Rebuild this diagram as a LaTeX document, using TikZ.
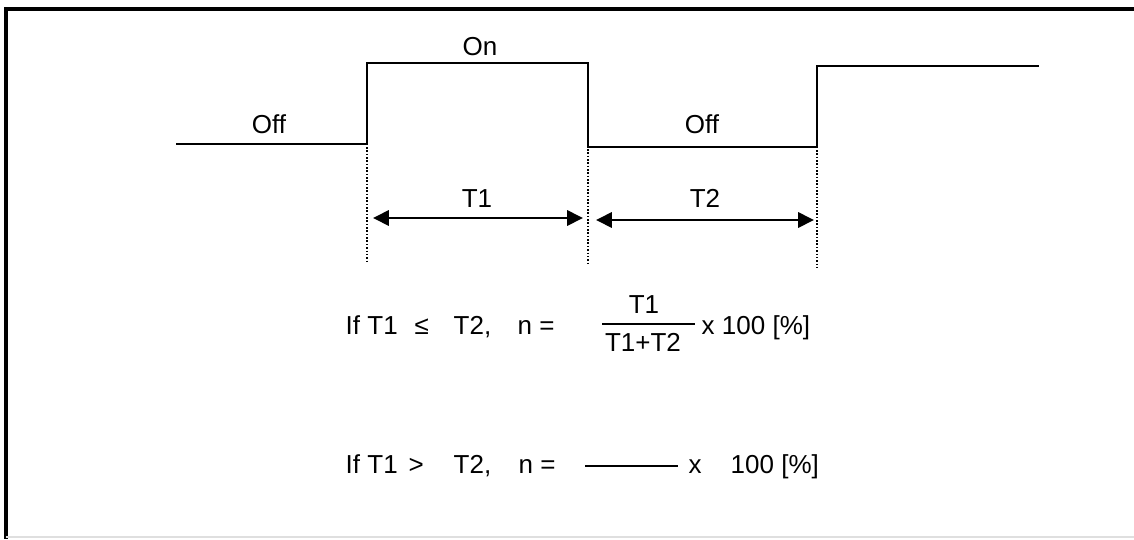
\documentclass[tikz,border=0pt]{standalone}
\usepackage{fontspec}
\setmainfont{Liberation Sans}
\usetikzlibrary{arrows.meta}

\begin{document}
\begin{tikzpicture}[
		frm/.style={draw=black,line width=1pt},
		wav/.style={draw=black,line width=0.65pt},
		mrk/.style={draw=black,line width=0.45pt,dash pattern=on 0.45pt off 0.5pt},
		dim/.style={{Triangle[length=4.5pt,width=4.3pt]}-{Triangle[length=4.5pt,width=4.3pt]},draw=black,line width=0.8pt},
		bar/.style={draw=black,line width=0.6pt},
		lbl/.style={font=\fontsize{7.4}{9}\selectfont,inner sep=0pt,anchor=base},
		txt/.style={font=\fontsize{7.4}{9}\selectfont,inner sep=0pt,anchor=base west}]
	\useasboundingbox (0,0) rectangle (11.34,5.39);
	% frame
	\draw[frm] (11.34,5.30) -- (0.06,5.30) -- (0.06,0);
	\draw[draw=gray!25,line width=0.5pt] (0.06,0.02) -- (11.34,0.02);
	% switching instants
	\coordinate (s1) at (3.67,3.92);
	\coordinate (s2) at (5.88,3.90);
	\coordinate (s3) at (8.17,3.89);
	\coordinate (b1) at (3.67,2.77);
	\coordinate (b2) at (5.88,2.76);
	\coordinate (b3) at (8.17,2.72);
	% signal
	\draw[wav] (1.76,3.95) -- (3.67,3.95) -- (3.67,4.76) -- (5.88,4.76)
		-- (5.88,3.92) -- (8.17,3.92) -- (8.17,4.73) -- (10.39,4.73);
	\draw[mrk] (s1) -- (b1);
	\draw[mrk] (s2) -- (b2);
	\draw[mrk] (s3) -- (b3);
	% periods
	\coordinate (t1a) at (3.73,3.21);
	\coordinate (t1b) at (5.83,3.21);
	\coordinate (t2a) at (5.96,3.19);
	\coordinate (t2b) at (8.14,3.19);
	\draw[dim] (t1a) -- (t1b);
	\draw[dim] (t2a) -- (t2b);
	\node[lbl] (on) at (4.80,4.84) {On};
	\node[lbl] (offa) at (2.69,4.06) {Off};
	\node[lbl] (offb) at (7.02,4.06) {Off};
	\node[lbl] (lt1) at (4.77,3.32) {T1};
	\node[lbl] (lt2) at (7.05,3.32) {T2};
	% first case
	\node[txt] (ifa) at (3.45,2.05) {If T1};
	\node[txt] (lea) at (4.14,2.05) {≤};
	\node[txt] (tta) at (4.53,2.05) {T2,};
	\node[txt] (eqa) at (5.17,2.05) {n =};
	\node[lbl] (num) at (6.44,2.26) {T1};
	\node[lbl] (den) at (6.43,1.88) {T1+T2};
	\draw[bar] (6.02,2.15) -- (6.95,2.15);
	\node[txt] (pcta) at (7.01,2.05) {x 100 [\%]};
	% second case
	\node[txt] (ifb) at (3.45,0.66) {If T1};
	\node[txt] (gtb) at (4.08,0.66) {>};
	\node[txt] (ttb) at (4.53,0.66) {T2,};
	\node[txt] (eqb) at (5.18,0.66) {n =};
	\draw[bar] (5.85,0.73) -- (6.78,0.73);
	\node[txt] (mulb) at (6.88,0.66) {x};
	\node[txt] (pctb) at (7.30,0.66) {100 [\%]};
\end{tikzpicture}
\end{document}
